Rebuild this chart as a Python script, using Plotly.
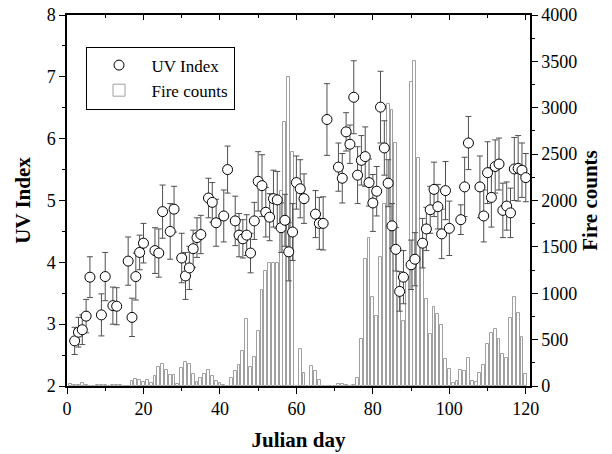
import plotly.graph_objects as go

# ---- UV Index data ----
uv_days = [2, 3, 4, 5, 6, 9, 10, 12, 13, 16, 17, 18, 19, 20, 23, 24, 25, 27, 28, 30,
           31, 32, 33, 34, 35, 37, 38, 39, 41, 42, 44, 45, 46, 47, 48, 49, 50, 51, 52, 53,
           54, 55, 56, 57, 58, 59, 60, 61, 62, 65, 66, 67, 68, 71, 72, 73, 74, 75, 76, 77,
           78, 79, 80, 81, 82, 83, 84, 85, 86, 87, 88, 90, 91, 93, 94, 95, 96, 97, 98, 99,
           100, 103, 104, 105, 108, 109, 110, 111, 112, 113, 114, 115, 116, 117, 118, 119, 120]
uv_values = [2.73, 2.87, 2.91, 3.13, 3.76, 3.15, 3.77, 3.30, 3.29, 4.02, 3.11, 3.77, 4.16, 4.31,
             4.19, 4.15, 4.82, 4.50, 4.86, 4.07, 3.78, 3.91, 4.22, 4.40, 4.45, 5.04, 4.97, 4.64,
             4.75, 5.50, 4.67, 4.44, 4.38, 4.44, 4.15, 4.67, 5.31, 5.24, 4.81, 4.73, 5.03, 5.01,
             4.56, 4.68, 4.17, 4.49, 5.29, 5.19, 5.03, 4.78, 4.63, 4.63, 6.31, 5.54, 5.36, 6.11,
             5.91, 6.67, 5.41, 5.65, 5.71, 5.29, 4.96, 5.15, 6.51, 5.85, 5.28, 4.59, 4.21, 3.53,
             3.76, 3.96, 4.05, 4.31, 4.54, 4.85, 5.18, 4.90, 4.46, 5.16, 4.55, 4.69, 5.22, 5.93,
             5.22, 4.75, 5.45, 5.05, 5.55, 5.59, 4.84, 4.91, 4.80, 5.51, 5.52, 5.49, 5.37]
uv_errors = [0.22, 0.24, 0.24, 0.27, 0.33, 0.34, 0.39, 0.30, 0.30, 0.39, 0.31, 0.38, 0.28, 0.32,
             0.37, 0.39, 0.43, 0.45, 0.37, 0.40, 0.38, 0.35, 0.30, 0.32, 0.31, 0.32, 0.32, 0.38,
             0.42, 0.38, 0.40, 0.35, 0.31, 0.33, 0.32, 0.30, 0.48, 0.50, 0.40, 0.38, 0.46, 0.46,
             0.40, 0.42, 0.47, 0.46, 0.43, 0.47, 0.40, 0.38, 0.42, 0.43, 0.58, 0.39, 0.40, 0.31,
             0.31, 0.59, 0.46, 0.40, 0.48, 0.38, 0.46, 0.40, 0.58, 0.44, 0.38, 0.36, 0.35, 0.32,
             0.43, 0.40, 0.43, 0.40, 0.35, 0.38, 0.44, 0.36, 0.40, 0.47, 0.44, 0.24, 0.48, 0.43,
             0.50, 0.42, 0.50, 0.48, 0.43, 0.42, 0.44, 0.39, 0.40, 0.51, 0.53, 0.44, 0.39]

# ---- Fire counts data (days 1..120) ----
fire_days = list(range(1, 121))
fire_counts = [18, 11, 11, 36, 11, 0, 0, 7, 7, 7,
               0, 7, 7, 7, 0, 0, 54, 71, 61, 46,
               61, 36, 107, 204, 232, 168, 118, 114, 18, 193,
               261, 232, 125, 43, 89, 132, 172, 107, 54, 30,
               8, 0, 86, 157, 230, 375, 722, 200, 311, 590,
               1030, 1240, 1330, 1330, 1330, 2100, 2850, 3330, 2520, 0,
               400, 143, 0, 215, 160, 70, 0, 0, 0, 0,
               20, 20, 15, 5, 10, 89, 507, 1372, 1597, 965,
               757, 1390, 1962, 3044, 2973, 2616, 950, 700, 1150, 3276,
               3509, 2462, 1500, 943, 565, 851, 779, 658, 293, 179,
               29, 57, 175, 165, 300, 54, 43, 143, 229, 454,
               572, 615, 508, 343, 304, 729, 965, 786, 529, 125]

FONT = "Liberation Serif"

fig = go.Figure()

fig.add_trace(go.Bar(
    x=fire_days, y=fire_counts, yaxis="y", xaxis="x",
    width=0.75,
    marker=dict(color="white", line=dict(color="#a0a0a0", width=1)),
    name="Fire counts", legendrank=2,
))

fig.add_trace(go.Scatter(
    x=uv_days, y=uv_values, yaxis="y2", xaxis="x",
    mode="markers",
    marker=dict(symbol="circle", size=10, color="white",
                line=dict(color="black", width=1)),
    error_y=dict(type="data", array=uv_errors, visible=True,
                 color="#505050", thickness=1, width=3),
    name="UV Index", legendrank=1,
))

# invisible trace to render top axis with inward ticks
fig.add_trace(go.Scatter(x=[60], y=[0], xaxis="x2", yaxis="y",
                         mode="markers", marker=dict(opacity=0),
                         showlegend=False, hoverinfo="skip"))

axis_font = dict(family=FONT, size=18, color="black")
title_font = dict(family=FONT, size=21, color="black", weight="bold")

fig.update_layout(
    width=612, height=454,
    margin=dict(l=67, r=82, t=15, b=68, autoexpand=False),
    paper_bgcolor="white", plot_bgcolor="white",
    font=dict(family=FONT, color="black"),
    bargap=0,
    showlegend=True,
    legend=dict(x=0.04, y=0.915, xanchor="left", yanchor="top",
                bgcolor="white", bordercolor="black", borderwidth=1,
                font=dict(family=FONT, size=17, color="black"),
                tracegroupgap=0, itemwidth=55),
    xaxis=dict(range=[0, 121.1], tickmode="linear", tick0=0, dtick=20,
               ticks="outside", ticklen=6, tickwidth=1, tickcolor="black",
               minor=dict(dtick=10, ticks="outside", ticklen=3, tickcolor="black"),
               showline=True, linecolor="black", linewidth=1.5, automargin=False,
               showgrid=False, zeroline=False, tickfont=axis_font,
               title=dict(text="Julian day", font=title_font, standoff=14)),
    xaxis2=dict(range=[0, 121.1], overlaying="x", side="top", matches="x",
                tickmode="linear", tick0=0, dtick=20,
                ticks="inside", ticklen=5, tickcolor="black",
                minor=dict(dtick=10, ticks="inside", ticklen=3, tickcolor="black"),
                showticklabels=False, showline=True, linecolor="black", linewidth=1.5,
                showgrid=False, zeroline=False, automargin=False),
    yaxis=dict(range=[0, 4000], side="right", tickmode="linear", tick0=0, dtick=500,
               ticks="outside", ticklen=6, tickcolor="black",
               minor=dict(dtick=250, ticks="outside", ticklen=3, tickcolor="black"),
               showline=True, linecolor="black", linewidth=1.5, automargin=False,
               showgrid=False, zeroline=False, tickfont=axis_font,
               title=dict(text="Fire counts", font=title_font, standoff=6)),
    yaxis2=dict(range=[2, 8], overlaying="y", side="left", tickmode="linear",
                tick0=2, dtick=1,
                ticks="outside", ticklen=6, tickcolor="black",
                minor=dict(dtick=0.5, ticks="outside", ticklen=3, tickcolor="black"),
                showline=True, linecolor="black", linewidth=1.5, automargin=False,
                showgrid=False, zeroline=False, tickfont=axis_font,
                title=dict(text="UV Index", font=title_font, standoff=10)),
)

fig.write_html("out.html")
